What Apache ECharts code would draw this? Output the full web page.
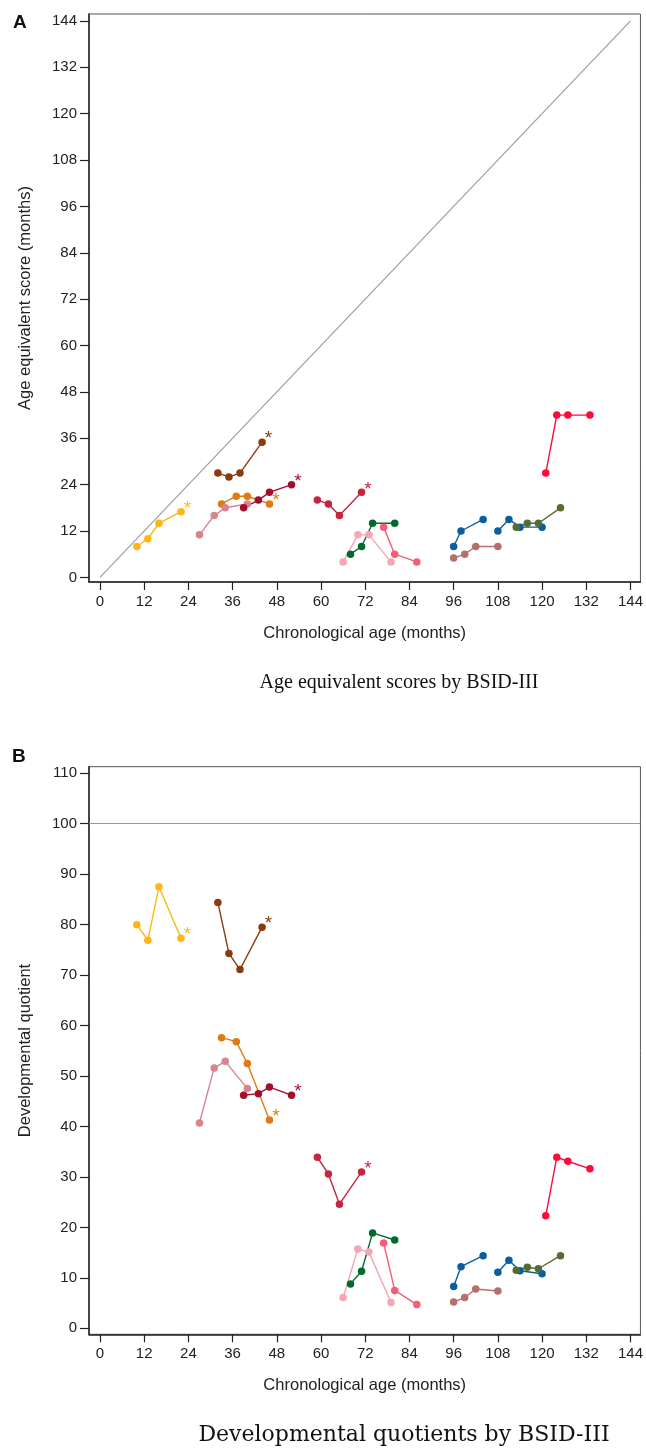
<!DOCTYPE html>
<html>
<head>
<meta charset="utf-8">
<script src="https://cdn.jsdelivr.net/npm/echarts@6/dist/echarts.min.js"></script>
<style>
html,body{margin:0;padding:0;background:#fff;}
#c{width:646px;height:1449px;}
</style>
</head>
<body>
<div id="c"></div>
<script>
// ---- data ----
const xTicks = [0,12,24,36,48,60,72,84,96,108,120,132,144];
const yTicksA = [0,12,24,36,48,60,72,84,96,108,120,132,144];
const yTicksB = [0,10,20,30,40,50,60,70,80,90,100,110];

const names = ['yellow','brown','orange','pink','crimson','red','green','lightpink','salmon','blue1','blue2','olive','rosy','brightred'];
const colors = ['#FDB616','#8A3A0F','#E07A12','#D9838F','#A30E2C','#C8243F','#006B2D','#F8A4B4','#F55C77','#0A5E9E','#0A5E9E','#556B30','#B4716B','#FF0A3B'];
const starred = [true,true,true,false,true,true,false,false,false,false,false,false,false,false];

const ageYellow = [10,13,16,22];
const ageBrown = [32,35,38,44];
const ageOrange = [33,37,40,46];
const agePink = [27,31,34,40];
const ageCrimson = [39,43,46,52];
const ageRed = [59,62,65,71];
const ageGreen = [68,71,74,80];
const ageLightpink = [66,70,73,79];
const ageSalmon = [77,80,86];
const ageBlue1 = [96,98,104];
const ageBlue2 = [108,111,114,120];
const ageOlive = [113,116,119,125];
const ageRosy = [96,99,102,108];
const ageBrightred = [121,124,127,133];

const aeYellow = [8,10,14,17];
const aeBrown = [27,26,27,35];
const aeOrange = [19,21,21,19];
const aePink = [11,16,18,19];
const aeCrimson = [18,20,22,24];
const aeRed = [20,19,16,22];
const aeGreen = [6,8,14,14];
const aeLightpink = [4,11,11,4];
const aeSalmon = [13,6,4];
const aeBlue1 = [8,12,15];
const aeBlue2 = [12,15,13,13];
const aeOlive = [13,14,14,18];
const aeRosy = [5,6,8,8];
const aeBrightred = [27,42,42,42];

const dqYellow = [80.0,76.9,87.5,77.3];
const dqBrown = [84.4,74.3,71.1,79.5];
const dqOrange = [57.6,56.8,52.5,41.3];
const dqPink = [40.7,51.6,52.9,47.5];
const dqCrimson = [46.2,46.5,47.8,46.2];
const dqRed = [33.9,30.6,24.6,31.0];
const dqGreen = [8.8,11.3,18.9,17.5];
const dqLightpink = [6.1,15.7,15.1,5.1];
const dqSalmon = [16.9,7.5,4.7];
const dqBlue1 = [8.3,12.2,14.4];
const dqBlue2 = [11.1,13.5,11.4,10.8];
const dqOlive = [11.5,12.1,11.8,14.4];
const dqRosy = [5.2,6.1,7.8,7.4];
const dqBrightred = [22.3,33.9,33.1,31.6];

const ageRefLine = [0,144];
const aeRefLine = [0,144];
const dqRef = 100;

const ages = [ageYellow,ageBrown,ageOrange,agePink,ageCrimson,ageRed,ageGreen,ageLightpink,ageSalmon,ageBlue1,ageBlue2,ageOlive,ageRosy,ageBrightred];
const aes = [aeYellow,aeBrown,aeOrange,aePink,aeCrimson,aeRed,aeGreen,aeLightpink,aeSalmon,aeBlue1,aeBlue2,aeOlive,aeRosy,aeBrightred];
const dqs = [dqYellow,dqBrown,dqOrange,dqPink,dqCrimson,dqRed,dqGreen,dqLightpink,dqSalmon,dqBlue1,dqBlue2,dqOlive,dqRosy,dqBrightred];

// ---- chart ----
const FONT = 'Liberation Sans, Arial, sans-serif';
const chart = echarts.init(document.getElementById('c'), null, {renderer:'canvas'});

function xAxis(gi){
  return {
    type:'value', gridIndex:gi, min:-2.98, max:146.7,
    name:'Chronological age (months)', nameLocation:'middle', nameGap:43,
    nameTextStyle:{fontFamily:FONT, fontSize:16.5, color:'#222'},
    axisLine:{show:true, onZero:false, lineStyle:{color:'#222', width:1.5}},
    axisTick:{show:true, customValues:xTicks, length:8, lineStyle:{color:'#222', width:1.2}},
    axisLabel:{customValues:xTicks, fontFamily:FONT, fontSize:15, color:'#222', margin:12},
    splitLine:{show:false}
  };
}
function yAxis(gi, min, max, ticks, name){
  return {
    type:'value', gridIndex:gi, min:min, max:max,
    name:name, nameLocation:'middle', nameGap:55, nameRotate:90,
    nameTextStyle:{fontFamily:FONT, fontSize:16.5, color:'#222'},
    axisLine:{show:true, onZero:false, lineStyle:{color:'#222', width:1.5}},
    axisTick:{show:true, customValues:ticks, length:9, lineStyle:{color:'#222', width:1.2}},
    axisLabel:{customValues:ticks, fontFamily:FONT, fontSize:15, color:'#222', margin:12},
    splitLine:{show:false}
  };
}

function buildSeries(gi, vals){
  return names.map((n,k)=>{
    const data = ages[k].map((a,i)=>{
      const item = {value:[a, vals[k][i]]};
      if (starred[k] && i === ages[k].length-1) {
        item.label = {show:true, formatter:'*', position:'right', distance:-1, offset:[0,-3],
          color:colors[k], fontSize:19, fontFamily:FONT};
      }
      return item;
    });
    return {
      type:'line', name:n+gi, xAxisIndex:gi, yAxisIndex:gi, data:data,
      symbol:'circle', symbolSize:7.5, showSymbol:true,
      lineStyle:{color:colors[k], width:1.4},
      itemStyle:{color:colors[k], borderWidth:0},
      emphasis:{disabled:true}, animation:false, z:3
    };
  });
}

const series = [];
series.push({
  type:'line', xAxisIndex:0, yAxisIndex:0, data:[[ageRefLine[0],aeRefLine[0]],[ageRefLine[1],aeRefLine[1]]],
  symbol:'none', lineStyle:{color:'#9a9a9a', width:1.1}, animation:false, z:2, silent:true
});
series.push(...buildSeries(0, aes));
const seriesB = buildSeries(1, dqs);
seriesB[0].markLine = {silent:true, symbol:'none', label:{show:false},
  lineStyle:{color:'#9a9a9a', width:1.1, type:'solid'}, data:[{yAxis:dqRef}], animation:false};
series.push(...seriesB);

chart.setOption({
  animation:false,
  backgroundColor:'#fff',
  grid:[
    {left:89, top:14, width:552.7, height:568, show:true, borderColor:'#555', borderWidth:1, containLabel:false},
    {left:89, top:766.7, width:552.7, height:567.6, show:true, borderColor:'#555', borderWidth:1, containLabel:false}
  ],
  xAxis:[xAxis(0), xAxis(1)],
  yAxis:[
    yAxis(0, -1.2, 145.8, yTicksA, 'Age equivalent score (months)'),
    yAxis(1, -1.19, 111.3, yTicksB, 'Developmental quotient')
  ],
  series:series,
  graphic:[
    {type:'text', left:13, top:13, style:{text:'A', font:'bold 19px '+FONT, fill:'#111'}},
    {type:'text', left:12, top:747, style:{text:'B', font:'bold 19px '+FONT, fill:'#111'}},
    {type:'text', x:399, y:683, style:{text:'Age equivalent scores by BSID-III', font:'20px "Liberation Serif", "Times New Roman", serif', fill:'#111', align:'center', verticalAlign:'middle'}},
    {type:'text', x:404, y:1435, style:{text:'Developmental quotients by BSID-III', font:'22px "DejaVu Serif", serif', fill:'#111', align:'center', verticalAlign:'middle'}}
  ]
});
</script>
</body>
</html>
